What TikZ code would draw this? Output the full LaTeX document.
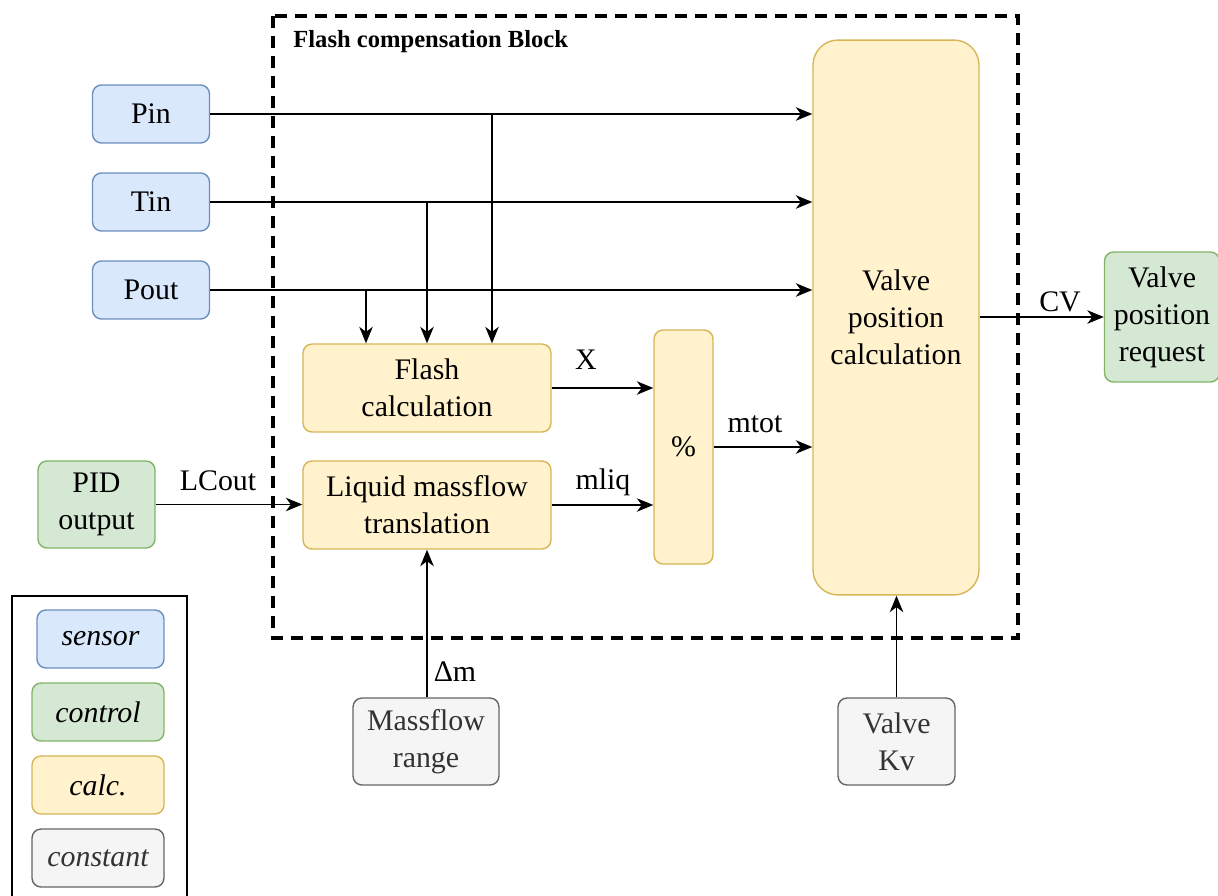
\documentclass[tikz,border=0pt]{standalone}
\usepackage{fontspec}
\setmainfont{Liberation Serif}
\usetikzlibrary{arrows.meta}

% box colours
\definecolor{sensorfill}{HTML}{DAE8FC}
\definecolor{sensorline}{HTML}{6C8EBF}
\definecolor{ctrlfill}{HTML}{D5E8D4}
\definecolor{ctrlline}{HTML}{82B366}
\definecolor{calcfill}{HTML}{FFF2CC}
\definecolor{calcline}{HTML}{D6B656}
\definecolor{constfill}{HTML}{F5F5F5}
\definecolor{constline}{HTML}{666666}
\definecolor{consttext}{HTML}{333333}

\tikzset{
  block/.style={rectangle, rounded corners=0.18cm, line width=0.8pt,
    align=center, inner sep=0pt, font=\fontsize{17}{21}\selectfont},
  sensor/.style={block, fill=sensorfill, draw=sensorline},
  control/.style={block, fill=ctrlfill, draw=ctrlline},
  calc/.style={block, fill=calcfill, draw=calcline},
  constant/.style={block, fill=constfill, draw=constline, text=consttext},
  sig/.style={-{Stealth[length=0.33cm,width=0.27cm,inset=0.1cm]}, line width=0.85pt},
  siglabel/.style={inner sep=0pt, font=\fontsize{17}{21}\selectfont},
}

\begin{document}
\begin{tikzpicture}[x=0.02cm, y=-0.02cm]
    \useasboundingbox (0,0) rectangle (1218,896);

    % Flash compensation block frame
    \draw[line width=2.3pt, dash pattern=on 0.24cm off 0.16cm] (273,16) rectangle (1018,638);
    \node[anchor=west, inner sep=0pt, font=\fontsize{14}{16}\selectfont\bfseries] (title) at (293,42) {Flash compensation Block};

    % sensors
    \node[sensor, minimum width=2.34cm, minimum height=1.16cm] (pin) at (151,114) {Pin};
    \node[sensor, minimum width=2.34cm, minimum height=1.16cm] (tin) at (151,202) {Tin};
    \node[sensor, minimum width=2.34cm, minimum height=1.16cm] (pout) at (151,290) {Pout};

    % controls
    \node[control, minimum width=2.34cm, minimum height=1.74cm] (pid) at (96.5,504.5) {PID\\output};
    \node[control, minimum width=2.3cm, minimum height=2.6cm] (vpr) at (1162,317) {Valve\\position\\request};

    % calculations
    \node[calc, minimum width=4.96cm, minimum height=1.76cm] (flash) at (427,388) {Flash\\calculation};
    \node[calc, minimum width=4.96cm, minimum height=1.76cm] (lmt) at (427,505) {Liquid massflow\\translation};
    \node[calc, minimum width=1.18cm, minimum height=4.68cm] (pct) at (683.5,447) {\%};
    \node[calc, rounded corners=0.5cm, minimum width=3.32cm, minimum height=11.1cm] (vpc) at (896,317.5) {Valve\\position\\calculation};

    % constants
    \node[constant, minimum width=2.92cm, minimum height=1.74cm] (mrange) at (426,741.5) {Massflow\\range};
    \node[constant, minimum width=2.34cm, minimum height=1.74cm] (kv) at (896.5,741.5) {Valve\\Kv};

    % sensor lines into the valve calculation
    \draw[sig] (pin.east) -- (pin.east -| vpc.west);
    \draw[sig] (tin.east) -- (tin.east -| vpc.west);
    \draw[sig] (pout.east) -- (pout.east -| vpc.west);

    % branches down to the flash calculation
    \coordinate (pinjoin) at (492,114);
    \coordinate (tinjoin) at (427,202);
    \coordinate (poutjoin) at (366,290);
    \draw[sig] (pinjoin) -- (pinjoin |- flash.north);
    \draw[sig] (tinjoin) -- (tinjoin |- flash.north);
    \draw[sig] (poutjoin) -- (poutjoin |- flash.north);

    % internal signals
    \draw[sig] (flash.east) -- (flash.east -| pct.west);
    \draw[sig] (lmt.east) -- (lmt.east -| pct.west);
    \draw[sig] (pct.east) -- (pct.east -| vpc.west);
    \draw[sig] (pid.east) -- (pid.east -| lmt.west);
    \draw[sig] (mrange.north -| lmt.south) -- (lmt.south);
    \draw[sig] (kv.north) -- (kv.north |- vpc.south);
    \draw[sig] (vpc.east |- vpr.west) -- (vpr.west);

    % signal names
    \node[siglabel] (lblx) at (586,360) {X};
    \node[siglabel] (lblmliq) at (603,482) {mliq};
    \node[siglabel] (lblmtot) at (755,424) {mtot};
    \node[siglabel] (lbllcout) at (218,481) {LCout};
    \node[siglabel] (lbldm) at (455,672) {Δm};
    \node[siglabel] (lblcv) at (1060,302) {CV};

    % legend
    \draw[line width=0.6pt] (12,596) rectangle (187,905);
    \node[sensor, minimum width=2.54cm, minimum height=1.16cm, font=\fontsize{17}{21}\selectfont\itshape] (legsensor) at (100.5,639) {sensor};
    \node[control, minimum width=2.64cm, minimum height=1.16cm, font=\fontsize{17}{21}\selectfont\itshape] (legcontrol) at (98,712) {control};
    \node[calc, minimum width=2.64cm, minimum height=1.16cm, font=\fontsize{17}{21}\selectfont\itshape] (legcalc) at (98,785) {calc.};
    \node[constant, minimum width=2.64cm, minimum height=1.16cm, font=\fontsize{17}{21}\selectfont\itshape] (legconst) at (98,858) {constant};
\end{tikzpicture}
\end{document}
